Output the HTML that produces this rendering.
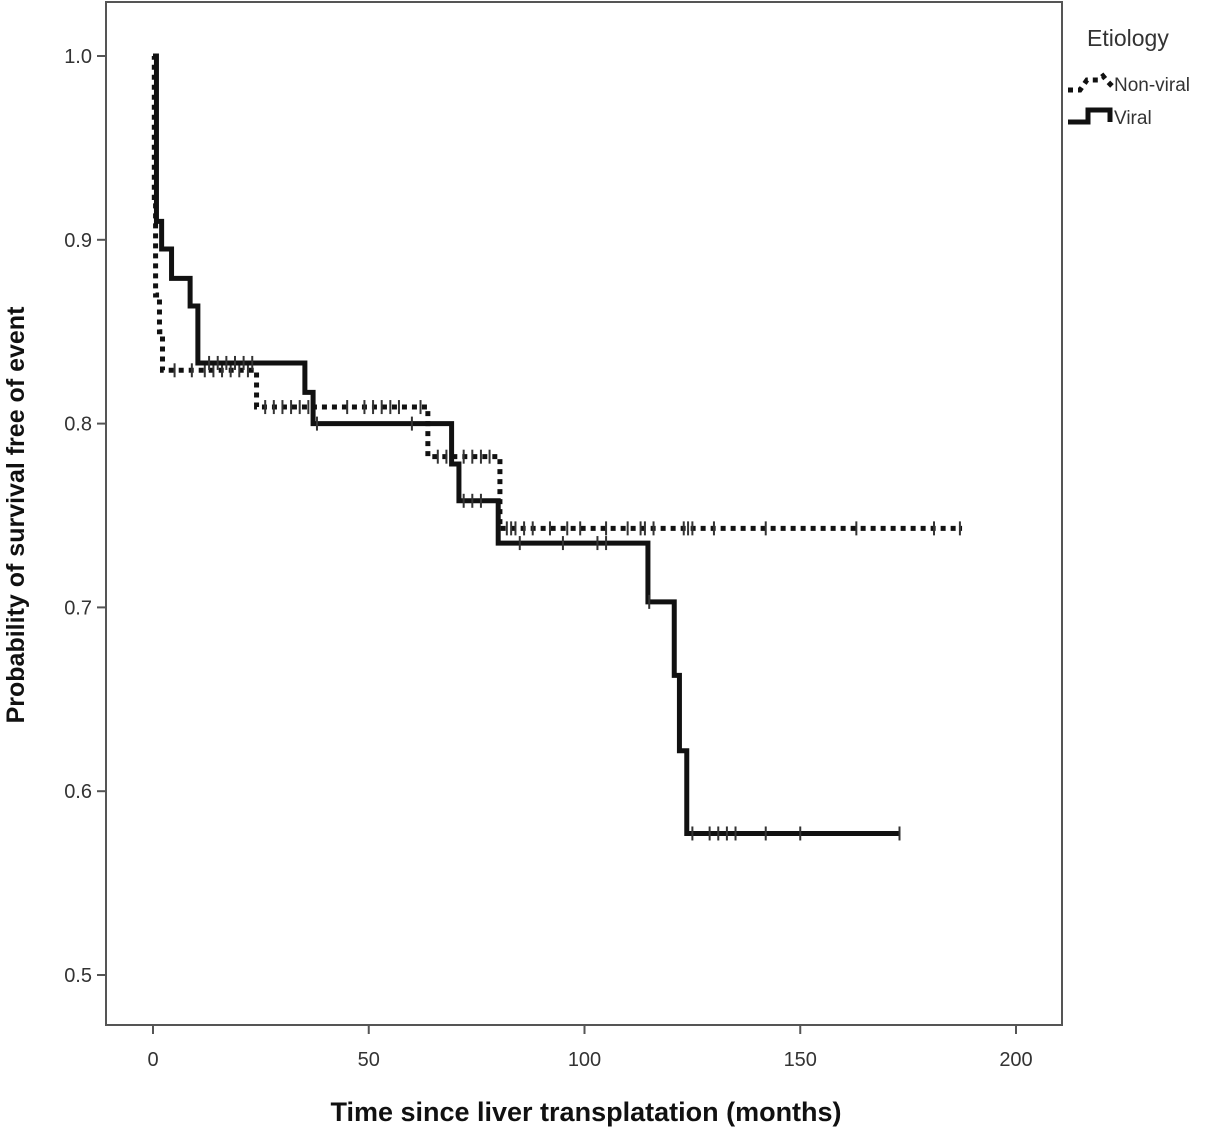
<!DOCTYPE html>
<html><head><meta charset="utf-8"><style>
html,body{margin:0;padding:0;background:#fff;}
svg{display:block;font-family:"Liberation Sans",sans-serif;}
</style></head><body>
<svg id="chart" width="1220" height="1134" viewBox="0 0 1220 1134">
<rect x="106" y="2" width="956" height="1023" fill="#fff" stroke="#555" stroke-width="2"/>
<g id="yticks"></g>
<g id="xticks"></g>
<g id="series"></g>
<text x="24" y="515" transform="rotate(-90 24 515)" text-anchor="middle" font-size="25" font-weight="bold" fill="#111">Probability of survival free of event</text>
<text x="586" y="1121" text-anchor="middle" font-size="27" font-weight="bold" fill="#111">Time since liver transplatation (months)</text>
<g>
<text x="1087" y="46" font-size="23" fill="#333">Etiology</text>
<polyline points="1068,90 1080,90 1087,80 1098,80 1103,76 1108,82 1112,86" fill="none" stroke="#111" stroke-width="5" stroke-dasharray="5,5"/>
<text x="1114" y="91" font-size="19" fill="#333">Non-viral</text>
<polyline points="1068,122 1088,122 1088,110 1110,110 1110,122" fill="none" stroke="#111" stroke-width="5"/>
<text x="1114" y="124" font-size="19" fill="#333">Viral</text>
</g>
</svg>
<script>
const yTicks=[0.5,0.6,0.7,0.8,0.9,1.0];
const yTickLabels=["0.5","0.6","0.7","0.8","0.9","1.0"];
const xTicks=[0,50,100,150,200];
const xTickLabels=["0","50","100","150","200"];
const viralTimes=[0,0.8,2,4.3,8.6,10.4,35.2,37.1,69.2,70.9,80,114.7,120.8,122,123.7,173];
const viralSurv=[1.0,0.91,0.895,0.879,0.864,0.833,0.817,0.80,0.778,0.758,0.735,0.703,0.663,0.622,0.577,0.577];
const viralCensor=[13,15,17,19,21,23,38,60,72,74,76,85,95,103,105,115,125,129,131,133,135,142,150,173];
const nonviralTimes=[0,0.3,0.6,1.5,2.2,24,63.7,80.4,187.5];
const nonviralSurv=[1.0,0.923,0.87,0.85,0.829,0.809,0.782,0.743,0.743];
const nonviralCensor=[5,9,12,14,16,18,20,22,26,28,30,32,34,36,45,49,51,53,55,57,62,66,68,72,74,76,78,82,83,84,86,88,92,96,99,105,110,113,114,116,123,124,125,130,142,163,181,187];
const NS="http://www.w3.org/2000/svg";
const X=t=>153+t*4.315;
const Y=s=>56+(1-s)*1838;
function mk(tag,attrs,parent){const e=document.createElementNS(NS,tag);for(const k in attrs)e.setAttribute(k,attrs[k]);parent.appendChild(e);return e;}
const yg=document.getElementById('yticks'),xg=document.getElementById('xticks'),sg=document.getElementById('series');
yTicks.forEach((v,i)=>{
 const l=mk('line',{x1:97,x2:106,y1:Y(v),y2:Y(v),stroke:'#555','stroke-width':2},yg);
 
 
 const t=mk('text',{x:92,y:Y(v)+7,'text-anchor':'end','font-size':20,fill:'#333'},yg);
 t.textContent=yTickLabels[i];
 
 
});
xTicks.forEach((v,i)=>{
 const l=mk('line',{x1:X(v),x2:X(v),y1:1025,y2:1034,stroke:'#555','stroke-width':2},xg);
 
 
 const t=mk('text',{x:X(v),y:1066,'text-anchor':'middle','font-size':20,fill:'#333'},xg);
 t.textContent=xTickLabels[i];
 
 
});
function stepPts(ts,ss){let p=[[X(ts[0]),Y(ss[0])]];for(let i=1;i<ts.length;i++){p.push([X(ts[i]),Y(ss[i-1])]);p.push([X(ts[i]),Y(ss[i])]);}return p.map(a=>a.join(',')).join(' ');}
function survAt(ts,ss,t){let s=ss[0];for(let i=0;i<ts.length;i++){if(ts[i]<=t)s=ss[i];}return s;}
function draw(ts,ss,cens,dash,name){
 const pl=mk('polyline',{points:stepPts(ts,ss),fill:'none',stroke:'#111','stroke-width':5},sg);
 if(dash)pl.setAttribute('stroke-dasharray','5,5');
 
 
 cens.forEach(c=>{
  const s=survAt(ts,ss,c);
  const m=mk('line',{x1:X(c),x2:X(c),y1:Y(s)-7,y2:Y(s)+7,stroke:'#333','stroke-width':2},sg);
  
  
 });
}
draw(nonviralTimes,nonviralSurv,nonviralCensor,true,'nonviral');
draw(viralTimes,viralSurv,viralCensor,false,'viral');
</script>
</body></html>
